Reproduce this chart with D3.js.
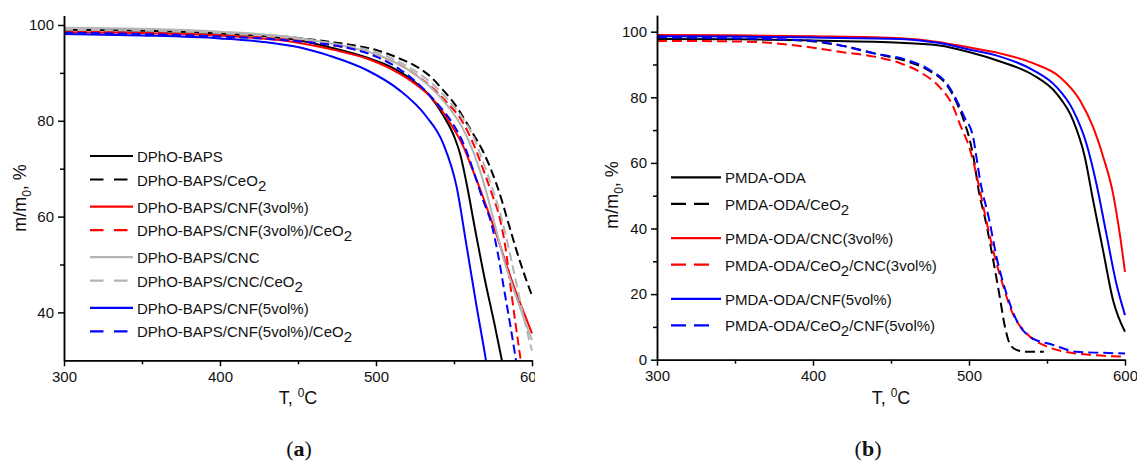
<!DOCTYPE html>
<html>
<head>
<meta charset="utf-8">
<script src="https://cdn.jsdelivr.net/npm/d3@7"></script>
<style>
  body { margin: 0; background: #fff; }
  svg { display: block; font-family: "Liberation Sans", Arial, sans-serif; }
</style>
</head>
<body>
<div id="chart"></div>
<script>
// ---- data: temperature (C) vs residual mass (%) ----
const tempMajor = [300, 400, 500, 600];
const tempMinor = [350, 450, 550];
const massMajorA = [40, 60, 80, 100];
const massMinorA = [50, 70, 90];
const massMajorB = [0, 20, 40, 60, 80, 100];
const massMinorB = [10, 30, 50, 70, 90];

// panel (a)
const aBaps = [[300,99.0],[350,98.8],[400,98.2],[450,96.8],[472,95.2],[494,93.2],[511,91.0],[524,88.3],[535,85.0],[543,81.2],[550,76.8],[554,73.0],[558,67.0],[564,56.5],[570,46.5],[576,37.5],[581,29.5]];
const aBapsCeO2 = [[300,98.7],[350,98.6],[400,98.2],[450,97.3],[470,96.5],[485,95.8],[500,94.8],[515,93.0],[526,91.3],[535,89.2],[543,86.4],[550,83.7],[556,80.7],[562,77.4],[568,74.0],[573,70.4],[577,67.0],[581,63.0],[585,58.5],[590,53.0],[595,48.0],[600,43.5]];
const aCnf3 = [[300,98.5],[350,98.3],[400,97.8],[450,96.3],[473,94.8],[494,93.0],[511,90.6],[526,87.5],[537,84.3],[547,79.8],[556,74.6],[562,69.7],[567,65.5],[572,61.0],[578,55.5],[584,49.5],[590,44.0],[595,39.8],[600,35.6]];
const aCnf3CeO2 = [[300,98.6],[350,98.4],[400,97.9],[450,96.8],[475,95.6],[500,93.8],[520,90.8],[535,87.2],[545,84.0],[555,80.0],[562,75.5],[568,70.5],[574,65.0],[579.5,59.5],[583,53.5],[586,46.0],[589.5,37.5],[593,29.5]];
const aCnc = [[300,99.4],[350,99.2],[400,98.6],[450,97.3],[475,95.9],[500,93.9],[520,90.8],[535,87.0],[545,83.5],[555,78.8],[563,73.0],[570,66.0],[576,58.5],[582,51.0],[588,45.0],[594,39.5],[600,34.2]];
const aCncCeO2 = [[300,99.0],[350,98.8],[400,98.3],[450,97.1],[475,96.0],[500,94.3],[520,91.4],[535,88.0],[545,84.8],[555,80.8],[562,77.0],[568,72.0],[575,65.5],[581,59.0],[586,52.0],[590,46.0],[594,40.0],[597,35.8],[600,32.0]];
const aCnf5 = [[300,98.1],[350,97.8],[400,97.2],[430,96.4],[450,95.4],[470,93.6],[494,90.6],[515,86.4],[532,81.0],[543,75.3],[551.7,66.2],[558,54.0],[564.5,41.2],[570.5,30.0],[571,29.0]];
const aCnf5CeO2 = [[300,98.4],[350,98.1],[400,97.6],[450,96.6],[470,95.9],[485,95.0],[500,93.4],[515,90.8],[530,86.8],[540,83.3],[550,79.0],[557,74.5],[563,69.0],[568,64.0],[574,58.5],[578,52.5],[582,45.0],[586,37.5],[590,29.5]];

// panel (b)
const bPmda = [[300,97.8],[353,97.7],[400,97.3],[456,96.6],[481,95.8],[500,93.8],[520,90.9],[541,86.8],[556,81.2],[566.7,73.0],[574.2,61.9],[579.5,48.7],[585.9,33.4],[592.3,18.2],[600,8.5]];
const bPmdaCeO2 = [[300,98.0],[350,97.8],[390,97.4],[420,95.6],[440,93.3],[460,91.0],[475,88.0],[485,84.2],[492,78.5],[497,72.5],[501,66.0],[503.5,60.0],[505.8,52.7],[511,41.6],[515.5,30.4],[519.7,19.2],[523,10.1],[526,5.0],[530.4,3.0],[537,2.4],[548,2.4]];
const bCnc3 = [[300,99.0],[350,98.9],[400,98.6],[456,98.0],[480,96.9],[498,95.4],[520,93.4],[541,90.4],[558,86.3],[571,79.2],[579.5,71.0],[586,61.9],[592.3,50.7],[596.6,38.5],[600,26.8]];
const bCeO2Cnc3 = [[300,97.2],[353,97.0],[375,96.5],[396,95.4],[417,93.9],[439,92.4],[456,90.4],[470,87.3],[481,83.2],[490,77.0],[494,72.0],[500,65.0],[503,60.0],[506,53.8],[511,42.6],[516.5,31.4],[522,22.3],[528,14.1],[537,8.0],[550,4.0],[562,2.4],[580,1.4],[600,0.9]];
const bCnf5 = [[300,98.6],[350,98.5],[400,98.2],[456,97.8],[480,96.6],[500,94.6],[520,92.4],[541,88.3],[556,83.2],[566.7,76.1],[575.2,66.0],[581.6,53.8],[588,38.5],[594.4,23.3],[600,13.6]];
const bCeO2Cnf5 = [[300,98.3],[350,98.0],[400,97.2],[417,95.9],[439,93.4],[460,91.4],[475,88.3],[485.6,84.3],[492,79.2],[497,74.0],[502.6,68.0],[505,61.0],[507,55.0],[513,42.6],[517.6,31.4],[524,20.2],[530.4,12.1],[539,7.0],[554,4.5],[569,2.4],[585,2.1],[600,1.9]];

const labelsA = ["DPhO-BAPS", "DPhO-BAPS/CeO_2", "DPhO-BAPS/CNF(3vol%)", "DPhO-BAPS/CNF(3vol%)/CeO_2",
                 "DPhO-BAPS/CNC", "DPhO-BAPS/CNC/CeO_2", "DPhO-BAPS/CNF(5vol%)", "DPhO-BAPS/CNF(5vol%)/CeO_2"];
const labelsB = ["PMDA-ODA", "PMDA-ODA/CeO_2", "PMDA-ODA/CNC(3vol%)", "PMDA-ODA/CeO_2/CNC(3vol%)",
                 "PMDA-ODA/CNF(5vol%)", "PMDA-ODA/CeO_2/CNF(5vol%)"];

const BLACK = "#000", RED = "#ff0000", GRAY = "#b4b4b4", BLUE = "#0000ff";

const seriesA = [
  { data: aBaps, color: BLACK, dash: false },
  { data: aBapsCeO2, color: BLACK, dash: true },
  { data: aCnf3, color: RED, dash: false },
  { data: aCnf3CeO2, color: RED, dash: true },
  { data: aCnc, color: GRAY, dash: false },
  { data: aCncCeO2, color: GRAY, dash: true },
  { data: aCnf5, color: BLUE, dash: false },
  { data: aCnf5CeO2, color: BLUE, dash: true }
].map((s, i) => ({ ...s, label: labelsA[i] }));

const seriesB = [
  { data: bPmda, color: BLACK, dash: false },
  { data: bPmdaCeO2, color: BLACK, dash: true },
  { data: bCnc3, color: RED, dash: false },
  { data: bCeO2Cnc3, color: RED, dash: true },
  { data: bCnf5, color: BLUE, dash: false },
  { data: bCeO2Cnf5, color: BLUE, dash: true }
].map((s, i) => ({ ...s, label: labelsB[i] }));

const width = 1137, height = 464;
const svg = d3.select("#chart").append("svg")
  .attr("width", width).attr("height", height);

// text with _2 style subscripts
function richText(sel, str, shift) {
  const parts = str.split(/_(\d)/);
  let down = false;
  parts.forEach((p, i) => {
    if (p === "") return;
    const ts = sel.append("tspan").text(p);
    if (i % 2 === 1) { ts.attr("dy", shift); down = true; }
    else if (down) { ts.attr("dy", -shift); down = false; }
  });
}

function drawPanel(cfg) {
  const g = svg.append("g");
  if (cfg.clipRight) {
    svg.append("clipPath").attr("id", cfg.id + "-clip")
      .append("rect").attr("x", 0).attr("y", 0).attr("width", cfg.clipRight).attr("height", height);
    g.attr("clip-path", `url(#${cfg.id}-clip)`);
  }

  const x = d3.scaleLinear().domain([300, 600]).range(cfg.xRange);
  const y = d3.scaleLinear().domain(cfg.yDomain).range(cfg.yRange);

  // plot area clip for curves
  svg.append("clipPath").attr("id", cfg.id + "-plot")
    .append("rect")
    .attr("x", cfg.xRange[0]).attr("y", cfg.yRange[1])
    .attr("width", cfg.xRange[1] - cfg.xRange[0] + 2)
    .attr("height", cfg.yRange[0] - cfg.yRange[1]);

  const line = d3.line()
    .x(d => x(d[0]))
    .y(d => y(d[1]))
    .curve(d3.curveMonotoneX);

  g.append("g").attr("clip-path", `url(#${cfg.id}-plot)`)
    .selectAll("path")
    .data(cfg.series)
    .join("path")
    .attr("fill", "none")
    .attr("stroke", d => d.color)
    .attr("stroke-width", 2)
    .attr("stroke-dasharray", d => d.dash ? cfg.dashPattern : null)
    .attr("d", d => line(d.data));

  // axes
  g.append("g")
    .attr("transform", `translate(0,${cfg.yRange[0]})`)
    .call(d3.axisBottom(x).tickValues(tempMajor).tickSize(6).tickSizeOuter(0).tickPadding(5));
  g.append("g")
    .attr("transform", `translate(0,${cfg.yRange[0]})`)
    .call(d3.axisBottom(x).tickValues(tempMinor).tickSize(4).tickSizeOuter(0).tickFormat(""));
  g.append("g")
    .attr("transform", `translate(${cfg.xRange[0]},0)`)
    .call(d3.axisLeft(y).tickValues(cfg.yMajor).tickSize(6).tickSizeOuter(0).tickPadding(4));
  g.append("g")
    .attr("transform", `translate(${cfg.xRange[0]},0)`)
    .call(d3.axisLeft(y).tickValues(cfg.yMinor).tickSize(4).tickSizeOuter(0).tickFormat(""));

  g.selectAll(".domain, .tick line").attr("stroke", "#000").attr("stroke-width", 1.5);
  g.selectAll(".tick text").attr("font-size", 15).attr("fill", "#111")
    .attr("font-family", '"Liberation Sans", Arial, sans-serif');

  // axis titles
  const xt = g.append("text")
    .attr("x", (cfg.xRange[0] + cfg.xRange[1]) / 2).attr("y", 404)
    .attr("text-anchor", "middle").attr("font-size", 18).attr("fill", "#111");
  xt.append("tspan").text("T, ");
  xt.append("tspan").attr("dy", -7).attr("font-size", 12).text("0");
  xt.append("tspan").attr("dy", 7).text("C");

  const yt = g.append("text")
    .attr("transform", `translate(${cfg.yTitleX},${cfg.yTitleY}) rotate(-90)`)
    .attr("text-anchor", "middle").attr("font-size", 18).attr("fill", "#111");
  yt.append("tspan").text("m/m");
  yt.append("tspan").attr("dy", 5).attr("font-size", 12).text("0");
  yt.append("tspan").attr("dy", -5).text(", %");

  // legend
  const leg = g.append("g");
  cfg.series.forEach((s, i) => {
    const pair = Math.floor(i / 2), ly = cfg.legY0 + pair * cfg.legPairGap + (i % 2) * cfg.legRowGap;
    leg.append("line")
      .attr("x1", cfg.legX).attr("x2", s.dash ? cfg.legX + cfg.legDashLen : cfg.legX + cfg.legLen)
      .attr("y1", ly).attr("y2", ly)
      .attr("stroke", s.color).attr("stroke-width", 2.2)
      .attr("stroke-dasharray", s.dash ? cfg.legDash : null);
    const t = leg.append("text")
      .attr("x", cfg.legX + cfg.legLen + 4).attr("y", ly + 6)
      .attr("font-size", 15).attr("fill", "#111");
    richText(t, s.label, 5);
  });

  // panel letter
  const pl = svg.append("text")
    .attr("x", cfg.letterX).attr("y", 456)
    .attr("text-anchor", "middle")
    .attr("font-family", '"Liberation Serif", "DejaVu Serif", serif')
    .attr("font-size", 22).attr("fill", "#111");
  pl.append("tspan").text("(");
  pl.append("tspan").attr("font-weight", "bold").text(cfg.letter);
  pl.append("tspan").text(")");
}

drawPanel({
  id: "pa", series: seriesA, letter: "a", letterX: 299,
  xRange: [64, 532], yDomain: [30, 102], yRange: [360.3, 15.4],
  yMajor: massMajorA, yMinor: massMinorA, clipRight: 535,
  yTitleX: 26, yTitleY: 198, dashPattern: "9,4.5",
  legX: 90, legLen: 43, legDashLen: 38, legDash: "13.5,10.5",
  legY0: 156, legPairGap: 50.6, legRowGap: 23.5
});

drawPanel({
  id: "pb", series: seriesB, letter: "b", letterX: 868,
  xRange: [657, 1125], yDomain: [0, 105], yRange: [359.7, 15.3],
  yMajor: massMajorB, yMinor: massMinorB, clipRight: null,
  yTitleX: 618, yTitleY: 195, dashPattern: "10,5",
  legX: 671, legLen: 50, legDashLen: 38, legDash: "15,8",
  legY0: 177.3, legPairGap: 60.8, legRowGap: 26.5
});
</script>
</body>
</html>
